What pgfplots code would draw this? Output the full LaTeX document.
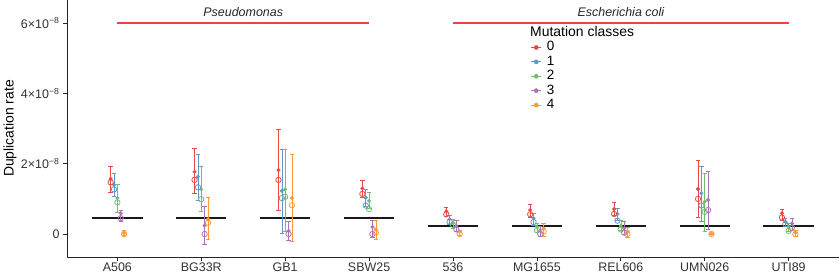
\documentclass[border=0pt]{standalone}
\usepackage{fontspec}
\setmainfont{Liberation Sans}
\usepackage{pgfplots}
\pgfplotsset{compat=1.18}
\usepackage{pgfplotstable}

\definecolor{c0}{RGB}{233,72,73}
\definecolor{c1}{RGB}{95,152,198}
\definecolor{c2}{RGB}{113,191,110}
\definecolor{c3}{RGB}{173,113,181}
\definecolor{c4}{RGB}{255,153,51}
\definecolor{grpred}{RGB}{230,70,66}

% x m(filled estimate) lo hi o(open estimate), values in units of 1e-8
\pgfplotstableread{
x m lo hi o
0.92 1.57 1.20 1.93 1.47
1.92 1.77 1.16 2.45 1.54
2.92 1.82 0.68 2.99 1.54
3.92 1.30 1.05 1.54 1.14
4.92 0.65 0.49 0.76 0.56
5.92 0.68 0.47 0.85 0.56
6.92 0.71 0.54 0.89 0.57
7.92 1.28 0.47 2.11 1.00
8.92 0.59 0.40 0.70 0.47
}\classzero
\pgfplotstableread{
x m lo hi o
0.96 1.40 1.07 1.74 1.27
1.96 1.63 0.97 2.28 1.33
2.96 1.23 0.02 2.41 1.02
3.96 1.03 0.80 1.27 0.81
4.96 0.42 0.28 0.52 0.35
5.96 0.45 0.26 0.59 0.34
6.96 0.57 0.40 0.73 0.38
7.96 1.16 0.35 1.93 0.81
8.96 0.35 0.21 0.45 0.28
}\classone
\pgfplotstableread{
x m lo hi o
1.00 1.02 0.63 1.41 0.90
2.00 1.27 0.65 1.93 0.99
3.00 1.27 0.07 2.41 1.06
4.00 0.94 0.73 1.20 0.71
5.00 0.32 0.16 0.42 0.26
6.00 0.21 0.04 0.30 0.11
7.00 0.23 0.11 0.40 0.13
8.00 0.92 0.09 1.74 0.63
9.00 0.21 0.07 0.30 0.09
}\classtwo
\pgfplotstableread{
x m lo hi o
1.04 0.59 0.35 0.68 0.45
2.04 0.24 -0.30 0.78 0.00
3.04 0.09 -0.17 0.35 0.00
4.04 0.20 -0.08 0.40 0.00
5.04 0.23 0.07 0.38 0.13
6.04 0.09 -0.06 0.21 0.00
7.04 0.16 -0.01 0.35 0.04
8.04 0.97 0.13 1.79 0.68
9.04 0.30 0.11 0.45 0.18
}\classthree
\pgfplotstableread{
x m lo hi o
1.08 0.03 -0.03 0.11 0.00
2.08 0.42 -0.15 1.04 0.32
3.08 1.02 -0.22 2.27 0.82
4.08 0.13 -0.15 0.40 0.04
5.08 0.07 -0.03 0.11 0.00
6.08 0.16 -0.06 0.30 0.07
7.08 0.07 -0.08 0.19 0.00
8.08 0.01 0.00 0.02 0.00
9.08 0.04 -0.06 0.11 0.00
}\classfour

\pgfplotsset{
  est/.style={forget plot, only marks, #1, mark=*, mark size=1.8bp,
    mark options={fill=#1, draw=#1},
    error bars/.cd, y dir=both, y explicit,
    error bar style={#1, line width=0.6pt},
    error mark options={#1, rotate=90, mark size=2.2bp, line width=0.6pt}},
  opn/.style={forget plot, only marks, #1, mark=o, mark size=2.7bp,
    mark options={draw=#1, line width=0.8pt}},
  leg/.style={#1, line width=0.9pt, mark=*, mark size=2.1bp, mark options={fill=#1, draw=#1, line width=0.4pt}},
}

\begin{document}
\begin{tikzpicture}
\path[use as bounding box] (0,0) rectangle (840bp,280bp);
\begin{axis}[
  at={(67bp,23bp)}, anchor=south west, scale only axis,
  width=772bp, height=257bp,
  xmin=0.4, xmax=9.6, ymin=-0.654, ymax=6.657,
  axis x line*=bottom, axis y line*=left,
  axis line style={line width=0.7pt, -, black!85},
  xtick={1,2,3,4,5,6,7,8,9},
  xticklabels={A506,BG33R,GB1,SBW25,536,MG1655,REL606,UMN026,UTI89},
  ytick={0,2,4,6},
  yticklabels={0,{2×10\textsuperscript{−8}},{4×10\textsuperscript{−8}},{6×10\textsuperscript{−8}}},
  tick align=outside, major tick length=4bp,
  tick style={black!85, line width=0.7pt},
  ticklabel style={font=\fontsize{12.5}{14}\selectfont, text=black!80},
  xticklabel style={yshift=1.5bp},
  ylabel={Duplication rate},
  ylabel style={font=\fontsize{14}{16}\selectfont, at={(axis description cs:-0.0738,0.5)}, anchor=center},
  clip=false,
  legend style={at={(axis description cs:0.6005,0.844)}, anchor=north west,
    draw=none, fill=none, inner sep=0pt, row sep=0bp, column sep=4bp,
    font=\fontsize{13.5}{15}\selectfont,
    nodes={inner sep=1.2bp, text height=9.5bp, text depth=2.5bp}},
  legend cell align=left,
  legend image code/.code={%
    \draw[mark repeat=2, mark phase=2, #1] plot coordinates {(0bp,0bp) (5bp,0bp) (10bp,0bp)};},
]
% reference lines per strain
\addplot[forget plot, black!90, line width=1.5pt, unbounded coords=jump] coordinates {
(0.7,0.45) (1.3,0.45) (1.5,nan)
(1.7,0.45) (2.3,0.45) (2.5,nan)
(2.7,0.45) (3.3,0.45) (3.5,nan)
(3.7,0.45) (4.3,0.45) (4.5,nan)
(4.7,0.23) (5.3,0.23) (5.5,nan)
(5.7,0.23) (6.3,0.23) (6.5,nan)
(6.7,0.23) (7.3,0.23) (7.5,nan)
(7.7,0.23) (8.3,0.23) (8.5,nan)
(8.7,0.23) (9.3,0.23)
};
% group lines
\addplot[forget plot, draw=grpred, line width=1.6pt, unbounded coords=jump] coordinates {
(1,6) (4,6) (4.5,nan) (5,6) (9,6)
};
\node[font=\itshape\fontsize{12.5}{14}\selectfont, anchor=base, text=black!85] at (axis cs:2.5,6.19) {Pseudomonas};
\node[font=\itshape\fontsize{12.5}{14}\selectfont, anchor=base, text=black!85] at (axis cs:7.0,6.19) {Escherichia coli};

\addplot[est=c0] table[x=x, y=m, y error plus expr=\thisrow{hi}-\thisrow{m}, y error minus expr=\thisrow{m}-\thisrow{lo}] {\classzero};
\addplot[est=c1] table[x=x, y=m, y error plus expr=\thisrow{hi}-\thisrow{m}, y error minus expr=\thisrow{m}-\thisrow{lo}] {\classone};
\addplot[est=c2] table[x=x, y=m, y error plus expr=\thisrow{hi}-\thisrow{m}, y error minus expr=\thisrow{m}-\thisrow{lo}] {\classtwo};
\addplot[est=c3] table[x=x, y=m, y error plus expr=\thisrow{hi}-\thisrow{m}, y error minus expr=\thisrow{m}-\thisrow{lo}] {\classthree};
\addplot[est=c4] table[x=x, y=m, y error plus expr=\thisrow{hi}-\thisrow{m}, y error minus expr=\thisrow{m}-\thisrow{lo}] {\classfour};

\addplot[opn=c0] table[x=x, y=o] {\classzero};
\addplot[opn=c1] table[x=x, y=o] {\classone};
\addplot[opn=c2] table[x=x, y=o] {\classtwo};
\addplot[opn=c3] table[x=x, y=o] {\classthree};
\addplot[opn=c4] table[x=x, y=o] {\classfour};

\addlegendimage{leg=c0}\addlegendentry{0}
\addlegendimage{leg=c1}\addlegendentry{1}
\addlegendimage{leg=c2}\addlegendentry{2}
\addlegendimage{leg=c3}\addlegendentry{3}
\addlegendimage{leg=c4}\addlegendentry{4}
\end{axis}
\node[anchor=west, font=\fontsize{14}{16}\selectfont, inner sep=0pt] at (530bp,248bp) {Mutation classes};
\end{tikzpicture}
\end{document}
